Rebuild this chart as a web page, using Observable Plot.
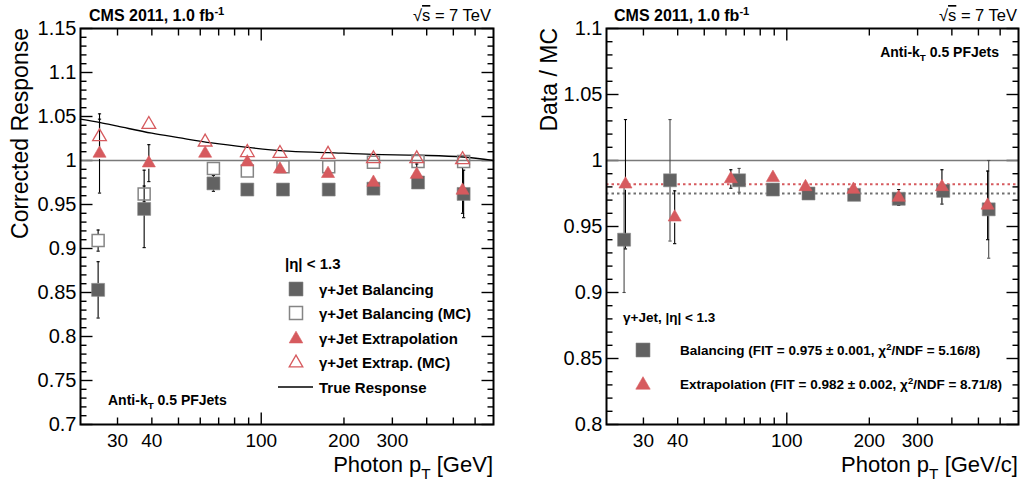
<!DOCTYPE html>
<html><head><meta charset="utf-8">
<script src="https://cdn.jsdelivr.net/npm/d3@7"></script>
<script src="https://cdn.jsdelivr.net/npm/@observablehq/plot@0.6"></script>
<style>
body{margin:0;background:#fff;}
#wrap{display:flex;width:1023px;height:483px;background:#fff;}
svg{display:block}
</style></head><body><div id="wrap"></div>
<script>
// ---------------- data ----------------
const balPt = [25.5, 37.5, 67, 89, 120, 176, 256, 372, 545];
const extPt = [25.8, 39, 62.5, 89, 117, 175, 256, 368, 540];

// left panel: corrected response
const respBal      = [0.853, 0.945, 0.974, 0.967, 0.967, 0.967, 0.968, 0.975, 0.962];
const respBalErr   = [0.032, 0.044, 0.009, 0.003, 0.002, 0.002, 0.002, 0.003, 0.027];
const respBalMC    = [0.909, 0.962, 0.991, 0.988, 0.993, 0.993, 0.998, 0.999, 0.999];
const respBalMCErr = [0.012, 0.009, 0.003, 0.002, 0.002, 0.002, 0.002, 0.002, 0.002];
const respExt      = [1.008, 0.997, 1.008, 0.998, 0.990, 0.985, 0.975, 0.984, 0.966];
const respExtErr   = [0.045, 0.021, 0.004, 0.003, 0.003, 0.003, 0.003, 0.012, 0.026];
const respExtMC    = [1.027, 1.041, 1.021, 1.009, 1.008, 1.007, 1.002, 1.002, 1.001];
const respExtMCErr = [0.020, 0.005, 0.003, 0.002, 0.002, 0.002, 0.002, 0.002, 0.002];

// true response curve
const truePt   = [22, 26, 30, 40, 50, 66, 89, 120, 175, 254, 372, 543, 700];
const trueResp = [1.047, 1.043, 1.039, 1.031, 1.026, 1.020, 1.015, 1.011, 1.009, 1.007, 1.006, 1.004, 1.000];

// right panel: data / MC
const ratioBal    = [0.940, 0.985, 0.985, 0.978, 0.975, 0.974, 0.971, 0.977, 0.963];
const ratioBalErr = [0.040, 0.046, 0.009, 0.003, 0.003, 0.003, 0.005, 0.005, 0.037];
const ratioExt    = [0.982, 0.957, 0.986, 0.987, 0.980, 0.978, 0.972, 0.980, 0.966];
const ratioExtErr = [0.049, 0.020, 0.007, 0.003, 0.003, 0.003, 0.006, 0.013, 0.026];
const fitBal = 0.975;
const fitExt = 0.982;

// ticks
const xLabelTicks = [30, 40, 100, 200, 300];
const xMinorTicks = [30, 40, 50, 60, 70, 80, 90, 200, 300, 400, 500, 600];
const xMajorTicks = [100];
const yLeftMajor  = [0.7, 0.75, 0.8, 0.85, 0.9, 0.95, 1, 1.05, 1.1, 1.15];
const yRightMajor = [0.8, 0.85, 0.9, 0.95, 1, 1.05, 1.1];

// ---------------- style ----------------
const FONT = "'Liberation Sans', Arial, Helvetica, sans-serif";
const GRAY = "#626262";
const OPENGRAY = "#858585";
const RED = "#d65a5e";

const tickSym = (dx, dy) => ({draw(ctx, size) { const l = Math.sqrt(size / Math.PI); ctx.moveTo(0, 0); ctx.lineTo(dx * l, dy * l); }});
const capSym = {draw(ctx, size) { const l = Math.sqrt(size / Math.PI); ctx.moveTo(-l, 0); ctx.lineTo(l, 0); }};
const fmt = d => String(+d.toFixed(2));

function minorY(lo, hi) {
  return d3.range(lo, hi + 1).filter(v => v % 5 !== 0).map(v => v / 100);
}

function frameTicks(yMajor, yMinor) {
  const t = {fill: "none", stroke: "black", strokeWidth: 1.4};
  return [
    Plot.dot(xMinorTicks, {x: d => d, frameAnchor: "bottom", symbol: tickSym(0, -1), r: 7, ...t}),
    Plot.dot(xMinorTicks, {x: d => d, frameAnchor: "top", symbol: tickSym(0, 1), r: 7, ...t}),
    Plot.dot(xMajorTicks, {x: d => d, frameAnchor: "bottom", symbol: tickSym(0, -1), r: 12, ...t}),
    Plot.dot(xMajorTicks, {x: d => d, frameAnchor: "top", symbol: tickSym(0, 1), r: 12, ...t}),
    Plot.dot(yMajor, {y: d => d, frameAnchor: "left", symbol: tickSym(1, 0), r: 12, ...t}),
    Plot.dot(yMajor, {y: d => d, frameAnchor: "right", symbol: tickSym(-1, 0), r: 12, ...t}),
    Plot.dot(yMinor, {y: d => d, frameAnchor: "left", symbol: tickSym(1, 0), r: 6, ...t}),
    Plot.dot(yMinor, {y: d => d, frameAnchor: "right", symbol: tickSym(-1, 0), r: 6, ...t})
  ];
}

function axisLabels(yMajor) {
  return [
    Plot.text(xLabelTicks, {x: d => d, frameAnchor: "bottom", lineAnchor: "top", dy: 9, text: d => `${d}`, fontSize: 19, fill: "black"}),
    Plot.axisY(yMajor, {tickSize: 0, tickPadding: 4, fontSize: 20, tickFormat: fmt, label: null})
  ];
}

function rows(xs, ys, es) { return xs.map((x, i) => ({x, y: ys[i], e: es[i]})); }

// error bars drawn outside the marker only (as in the ROOT original)
function errMarks(all, thr, color = "black") {
  const data = all.filter(d => d.e > thr);
  const s = {stroke: color, strokeWidth: 1.1};
  const c = {symbol: capSym, r: 1.6, fill: "none", ...s};
  return [
    Plot.ruleX(data, {x: "x", y1: d => d.y + d.e, y2: "y", insetBottom: 6, ...s}),
    Plot.ruleX(data, {x: "x", y1: "y", y2: d => d.y - d.e, insetTop: 6, ...s}),
    Plot.dot(data, {x: "x", y: d => d.y - d.e, ...c}),
    Plot.dot(data, {x: "x", y: d => d.y + d.e, ...c})
  ];
}

const SQ_R = 13 / Math.sqrt(Math.PI);
const SQO_R = 12 / Math.sqrt(Math.PI);
const TRI_R = 4.85;
const TRIO_R = 5.1;

// ---------------- text helper ----------------
function txt(svg, x, y, parts, o = {}) {
  const size = o.size || 15;
  const t = d3.select(svg).append("text")
    .attr("font-family", FONT)
    .attr("font-size", size)
    .attr("font-weight", o.weight || "bold")
    .attr("fill", "black")
    .attr("text-anchor", o.anchor || "start");
  if (o.rotate) t.attr("transform", `translate(${x},${y}) rotate(-90)`).attr("x", 0).attr("y", 0);
  else t.attr("x", x).attr("y", y);
  let shift = 0;
  for (const p of parts) {
    const [s, mode] = Array.isArray(p) ? p : [p, null];
    const target = mode === "sub" ? size * 0.3 : mode === "sup" ? -size * 0.38 : 0;
    const sp = t.append("tspan").text(s).attr("dy", target - shift);
    if (mode === "sub" || mode === "sup") sp.attr("font-size", size * 0.7);
    if (mode === "over") sp.style("text-decoration", "overline");
    shift = target;
  }
  return t;
}
function sym(svg, type, x, y, side, fill, stroke, sw) {
  d3.select(svg).append("path")
    .attr("d", d3.symbol().type(type).size(side)())
    .attr("transform", `translate(${x},${y})`)
    .attr("fill", fill).attr("stroke", stroke).attr("stroke-width", sw);
}

// ---------------- left panel ----------------
const thrL = 7 * 0.45 / 396;
const left = Plot.plot({
  width: 511, height: 483,
  marginLeft: 80, marginRight: 18, marginTop: 28, marginBottom: 59,
  style: {fontFamily: FONT, fontSize: "20px", color: "black", background: "white", overflow: "visible"},
  x: {type: "log", domain: [22, 700], axis: null},
  y: {domain: [0.7, 1.15]},
  marks: [
    ...frameTicks(yLeftMajor, minorY(70, 115)),
    Plot.ruleY([1], {stroke: "#7a7a7a", strokeWidth: 1.6}),
    Plot.line(truePt.map((x, i) => ({x, y: trueResp[i]})), {x: "x", y: "y", curve: "monotone-x", stroke: "black", strokeWidth: 1.3}),
    ...errMarks(rows(balPt, respBal, respBalErr), thrL),
    ...errMarks(rows(balPt, respBalMC, respBalMCErr), thrL),
    ...errMarks(rows(extPt, respExt, respExtErr), thrL),
    ...errMarks(rows(extPt, respExtMC, respExtMCErr), thrL),
    Plot.dot(rows(balPt, respBal, respBalErr), {x: "x", y: "y", symbol: "square", r: SQ_R, fill: GRAY, stroke: "#8c8c8c", strokeWidth: 0.6}),
    Plot.dot(rows(balPt, respBalMC, respBalMCErr), {x: "x", y: "y", symbol: "square", r: SQO_R, fill: "none", stroke: OPENGRAY, strokeWidth: 1.5}),
    Plot.dot(rows(extPt, respExt, respExtErr), {x: "x", y: "y", symbol: "triangle", r: TRI_R, fill: RED, stroke: RED, strokeWidth: 0.6}),
    Plot.dot(rows(extPt, respExtMC, respExtMCErr), {x: "x", y: "y", symbol: "triangle", r: TRIO_R, fill: "none", stroke: RED, strokeWidth: 1.3}),
    ...axisLabels(yLeftMajor),
    Plot.frame({stroke: "black", strokeWidth: 2})
  ]
});

// annotations left
txt(left, 89, 21, ["CMS 2011, 1.0 fb", ["-1", "sup"]], {size: 16});
txt(left, 491, 21, ["\u221A", ["s", "over"], " = 7 TeV"], {size: 16.5, weight: "normal", anchor: "end"});
txt(left, 28, 28, ["Corrected Response"], {size: 23, weight: "normal", anchor: "end", rotate: true});
txt(left, 493, 472, ["Photon p", ["T", "sub"], " [GeV]"], {size: 22, weight: "normal", anchor: "end"});
txt(left, 108, 405, ["Anti-k", ["T", "sub"], " 0.5 PFJets"], {size: 14});
txt(left, 285, 269, ["|\u03B7| < 1.3"], {size: 15});
const legY = [289, 313, 338, 362, 387];
const legLabels = ["\u03B3+Jet Balancing", "\u03B3+Jet Balancing (MC)", "\u03B3+Jet Extrapolation", "\u03B3+Jet Extrap. (MC)", "True Response"];
sym(left, d3.symbolSquare, 296, legY[0], 14 * 14, GRAY, "#8c8c8c", 0.6);
sym(left, d3.symbolSquare, 296, legY[1], 13 * 13, "none", OPENGRAY, 1.5);
sym(left, d3.symbolTriangle, 296, legY[2] + 1, 80, RED, RED, 0.6);
sym(left, d3.symbolTriangle, 296, legY[3] + 1, 80, "none", RED, 1.3);
d3.select(left).append("line").attr("x1", 278).attr("x2", 313).attr("y1", legY[4]).attr("y2", legY[4]).attr("stroke", "black").attr("stroke-width", 1.3);
legLabels.forEach((s, i) => txt(left, 319, legY[i] + 5.5, [s], {size: 15}));

// ---------------- right panel ----------------
const thrR = 7 * 0.3 / 396;
const right = Plot.plot({
  width: 512, height: 483,
  marginLeft: 95, marginRight: 5, marginTop: 28, marginBottom: 59,
  style: {fontFamily: FONT, fontSize: "20px", color: "black", background: "white", overflow: "visible"},
  x: {type: "log", domain: [22, 700], axis: null},
  y: {domain: [0.8, 1.1]},
  marks: [
    ...frameTicks(yRightMajor, minorY(80, 110)),
    Plot.ruleY([1], {stroke: "#7a7a7a", strokeWidth: 1.6}),
    Plot.ruleY([fitExt], {stroke: RED, strokeWidth: 2, strokeDasharray: "2.5,3"}),
    Plot.ruleY([fitBal], {stroke: "#707070", strokeWidth: 2, strokeDasharray: "2.5,3"}),
    ...errMarks(rows(balPt, ratioBal, ratioBalErr), thrR, "#4a4a4a"),
    ...errMarks(rows(extPt, ratioExt, ratioExtErr), thrR),
    Plot.dot(rows(balPt, ratioBal, ratioBalErr), {x: "x", y: "y", symbol: "square", r: SQ_R, fill: GRAY, stroke: "#8c8c8c", strokeWidth: 0.6}),
    Plot.dot(rows(extPt, ratioExt, ratioExtErr), {x: "x", y: "y", symbol: "triangle", r: TRI_R, fill: RED, stroke: RED, strokeWidth: 0.6}),
    ...axisLabels(yRightMajor),
    Plot.frame({stroke: "black", strokeWidth: 2})
  ]
});

txt(right, 103, 21, ["CMS 2011, 1.0 fb", ["-1", "sup"]], {size: 16});
txt(right, 506, 21, ["\u221A", ["s", "over"], " = 7 TeV"], {size: 16.5, weight: "normal", anchor: "end"});
txt(right, 46, 28, ["Data / MC"], {size: 23, weight: "normal", anchor: "end", rotate: true});
txt(right, 507, 472, ["Photon p", ["T", "sub"], " [GeV/c]"], {size: 22, weight: "normal", anchor: "end"});
txt(right, 488, 57, ["Anti-k", ["T", "sub"], " 0.5 PFJets"], {size: 14, anchor: "end"});
txt(right, 112, 322, ["\u03B3+Jet, |\u03B7| < 1.3"], {size: 13.5});
sym(right, d3.symbolSquare, 132, 350, 14 * 14, GRAY, "#8c8c8c", 0.6);
sym(right, d3.symbolTriangle, 132, 385, 90, RED, RED, 0.6);
txt(right, 169, 355, ["Balancing (FIT = 0.975 \u00B1 0.001, \u03C7", ["2", "sup"], "/NDF = 5.16/8)"], {size: 13.5});
txt(right, 169, 389, ["Extrapolation (FIT = 0.982 \u00B1 0.002, \u03C7", ["2", "sup"], "/NDF = 8.71/8)"], {size: 13.5});

const wrap = document.getElementById("wrap");
wrap.appendChild(left);
wrap.appendChild(right);
</script>
</body></html>
